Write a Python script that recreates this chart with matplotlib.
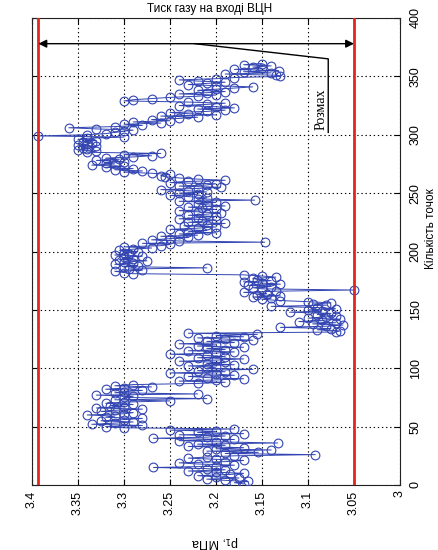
import numpy as np
import matplotlib
matplotlib.use("Agg")
import matplotlib.pyplot as plt

# Gas pressure at the compressor inlet, MPa, one value per sample
pressure = [
    # 1-48
    3.17, 3.18, 3.165, 3.19, 3.21, 3.175, 3.2, 3.22, 3.185, 3.17,
    3.2, 3.23, 3.19, 3.21, 3.268, 3.2, 3.18, 3.22, 3.24, 3.19,
    3.17, 3.2, 3.23, 3.21, 3.18, 3.092, 3.19, 3.154, 3.21, 3.14,
    3.2, 3.17, 3.23, 3.19, 3.22, 3.133, 3.2, 3.24, 3.18, 3.268,
    3.21, 3.19, 3.24, 3.17, 3.22, 3.2, 3.25, 3.18,
    # 49-86
    3.3, 3.32, 3.28, 3.335, 3.31, 3.29, 3.325, 3.3, 3.28, 3.32, 3.31, 3.34,
    3.3, 3.29, 3.325, 3.31, 3.28, 3.33, 3.3, 3.315, 3.29, 3.32, 3.3, 3.25,
    3.31, 3.21, 3.3, 3.29, 3.33, 3.22, 3.31, 3.3, 3.28, 3.32, 3.3, 3.27, 3.31, 3.29,
    # 87-130
    3.22, 3.19, 3.24, 3.2, 3.17, 3.21, 3.23, 3.18, 3.2, 3.25, 3.19, 3.22, 3.16, 3.21,
    3.2, 3.23, 3.18, 3.21, 3.19, 3.24, 3.2, 3.17, 3.22, 3.19, 3.21, 3.25, 3.2, 3.18, 3.23,
    3.19, 3.21, 3.17, 3.22, 3.2, 3.24, 3.18, 3.21, 3.16, 3.19, 3.22, 3.17, 3.2, 3.155, 3.23,
    # 131-158
    3.07, 3.065, 3.09, 3.075, 3.13, 3.08, 3.062, 3.095, 3.07, 3.11, 3.085, 3.065, 3.1, 3.08, 3.07,
    3.09, 3.075, 3.12, 3.085, 3.1, 3.07, 3.09, 3.14, 3.08, 3.095, 3.075, 3.1, 3.13,
    # 159-180
    3.15, 3.14, 3.16, 3.13, 3.155, 3.145, 3.17, 3.135, 3.05, 3.15, 3.16, 3.14,
    3.165, 3.13, 3.15, 3.17, 3.14, 3.155, 3.16, 3.135, 3.15, 3.17,
    # 181-213
    3.29, 3.3, 3.31, 3.28, 3.295, 3.21, 3.3, 3.285, 3.31, 3.29, 3.3, 3.275, 3.305, 3.29, 3.3,
    3.28, 3.31, 3.295, 3.3, 3.285, 3.305, 3.29, 3.27, 3.3, 3.26, 3.25, 3.28, 3.147, 3.24,
    3.27, 3.25, 3.23, 3.26,
    # 214-266
    3.22, 3.24, 3.2, 3.23, 3.21, 3.25, 3.22, 3.2, 3.235, 3.21, 3.19, 3.23, 3.215, 3.2, 3.24, 3.22, 3.2,
    3.23, 3.21, 3.195, 3.22, 3.24, 3.2, 3.215, 3.23, 3.19, 3.21, 3.22, 3.2, 3.24, 3.158, 3.22, 3.21, 3.23,
    3.25, 3.22, 3.24, 3.21, 3.23, 3.26, 3.22, 3.195, 3.24, 3.21, 3.2, 3.25, 3.23, 3.19, 3.22, 3.24,
    3.255, 3.26, 3.25,
    # 267-307
    3.27, 3.3, 3.28, 3.31, 3.29, 3.32, 3.3, 3.335, 3.31, 3.32, 3.3, 3.33, 3.305, 3.32,
    3.29, 3.27, 3.3, 3.26, 3.34, 3.33, 3.35, 3.34, 3.345, 3.33, 3.35, 3.34, 3.335, 3.345,
    3.33, 3.35, 3.34, 3.3, 3.393, 3.34, 3.32, 3.31, 3.3, 3.29, 3.33, 3.36, 3.31,
    # 308-349
    3.28, 3.3, 3.26, 3.29, 3.25, 3.27, 3.24, 3.22, 3.26, 3.2, 3.23, 3.25, 3.21,
    3.19, 3.22, 3.18, 3.2, 3.24, 3.21, 3.19, 3.23, 3.3, 3.29, 3.27, 3.25, 3.22, 3.2, 3.24,
    3.21, 3.19, 3.22, 3.2, 3.18, 3.16, 3.2, 3.23, 3.21, 3.19, 3.22, 3.24, 3.2, 3.18,
    # 350-361
    3.13, 3.135, 3.19, 3.14, 3.17, 3.132, 3.18, 3.15, 3.16, 3.14, 3.17, 3.15,
]
samples = np.arange(1, len(pressure) + 1)

p_ticks = [3.0, 3.05, 3.1, 3.15, 3.2, 3.25, 3.3, 3.35, 3.4]
p_tick_labels = ["3", "3.05", "3.1", "3.15", "3.2", "3.25", "3.3", "3.35", "3.4"]
n_ticks = [0, 50, 100, 150, 200, 250, 300, 350, 400]

title_text = "Тиск газу на вході ВЦН"
p_label = "p$_1$, МПа"
n_label = "Кількість точок"
range_label = "Розмах"

plt.rcParams["font.family"] = ["Liberation Sans", "DejaVu Sans"]

W, H = 439, 550
fig = plt.figure(figsize=(W / 100, H / 100), dpi=100)
fig.patch.set_facecolor("white")

ax_l, ax_r, ax_t, ax_b = 32, 400, 18, 485
ax = fig.add_axes([ax_l / W, 1 - ax_b / H, (ax_r - ax_l) / W, (ax_b - ax_t) / H])

p = np.array(pressure)
p_max, p_min = p.max(), p.min()

# Data series
ax.plot(p, samples, "-o", color="#3345b2", lw=0.7, ms=6.3, mfc="none",
        mec="#3345b2", mew=0.8, zorder=3)

# Limits of the range
ax.axvline(p_max, color="#e3261c", lw=2.0, zorder=4)
ax.axvline(p_min, color="#e3261c", lw=2.0, zorder=4)

# Range annotation
arrow_y = 378
ax.annotate("", xy=(p_min, arrow_y), xytext=(p_max, arrow_y),
            arrowprops=dict(arrowstyle="<|-|>", color="black", lw=1.0,
                            mutation_scale=12, shrinkA=0, shrinkB=0), zorder=5)
ax.plot([3.223, 3.078, 3.078], [arrow_y, 365, 302], color="black", lw=1.0, zorder=5)
ax.text(3.086, 322, range_label, rotation=90, ha="center", va="center",
        family=["Liberation Serif", "DejaVu Serif"], fontsize=10, zorder=5)

ax.set_xlim(3.4, 3.0)
ax.set_ylim(0, 400)
ax.set_xticks(p_ticks)
ax.set_xticklabels(p_tick_labels, rotation=90)
ax.set_yticks(n_ticks)
ax.set_yticklabels([str(v) for v in n_ticks], rotation=90, va="center")
ax.yaxis.tick_right()
ax.tick_params(axis="both", direction="in", length=4, width=0.8, labelsize=9,
               top=True, bottom=True, left=True, right=True, pad=4)
ax.tick_params(axis="y", pad=7)
ax.grid(True, color="black", linestyle=(0, (1.2, 2.5)), lw=0.8)
for s in ax.spines.values():
    s.set_linewidth(0.8)
    s.set_color("#222222")

fig.text(210 / W, 1 - 9 / H, title_text, ha="center", va="center", fontsize=8.5)
fig.text(431 / W, 1 - 229 / H, n_label, rotation=90, ha="center", va="center", fontsize=8.5)
fig.text(215 / W, 1 - 542 / H, p_label, rotation=180, ha="center", va="center", fontsize=9)

fig.savefig("out.png", dpi=100)
